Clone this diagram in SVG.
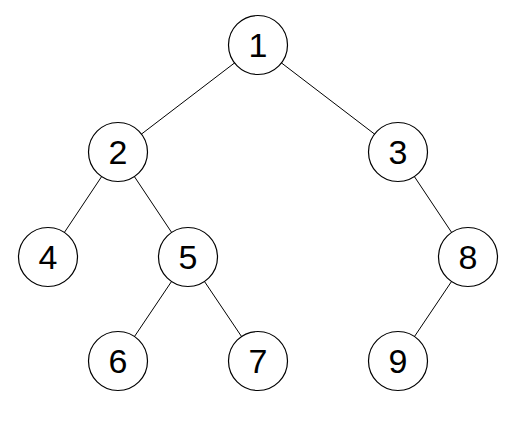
<svg xmlns="http://www.w3.org/2000/svg" width="524" height="428" viewBox="0 0 524 428">
<style>
.n circle{fill:#fff;stroke:#000;stroke-width:1.2}
.n text{font-family:"Liberation Sans",Arial,sans-serif;font-size:34px;fill:#000;text-anchor:middle}
#edges line{stroke:#000;stroke-width:1}
</style>
<rect width="524" height="428" fill="#fff"/>
<g id="edges">
<line x1="258" y1="45" x2="118" y2="152"/>
<line x1="258" y1="45" x2="398" y2="152"/>
<line x1="118" y1="152" x2="48" y2="257"/>
<line x1="118" y1="152" x2="188" y2="257"/>
<line x1="398" y1="152" x2="468" y2="257"/>
<line x1="188" y1="257" x2="118" y2="361"/>
<line x1="188" y1="257" x2="258" y2="361"/>
<line x1="468" y1="257" x2="398" y2="361"/>
</g>
<g id="n1" class="n"><circle cx="258" cy="45" r="29.5"/><text x="258" y="57">1</text></g>
<g id="n2" class="n"><circle cx="118" cy="152" r="29.5"/><text x="118" y="164">2</text></g>
<g id="n3" class="n"><circle cx="398" cy="152" r="29.5"/><text x="398" y="164">3</text></g>
<g id="n4" class="n"><circle cx="48" cy="257" r="29.5"/><text x="48" y="269">4</text></g>
<g id="n5" class="n"><circle cx="188" cy="257" r="29.5"/><text x="188" y="269">5</text></g>
<g id="n8" class="n"><circle cx="468" cy="257" r="29.5"/><text x="468" y="269">8</text></g>
<g id="n6" class="n"><circle cx="118" cy="361" r="29.5"/><text x="118" y="373">6</text></g>
<g id="n7" class="n"><circle cx="258" cy="361" r="29.5"/><text x="258" y="373">7</text></g>
<g id="n9" class="n"><circle cx="398" cy="361" r="29.5"/><text x="398" y="373">9</text></g>
</svg>
